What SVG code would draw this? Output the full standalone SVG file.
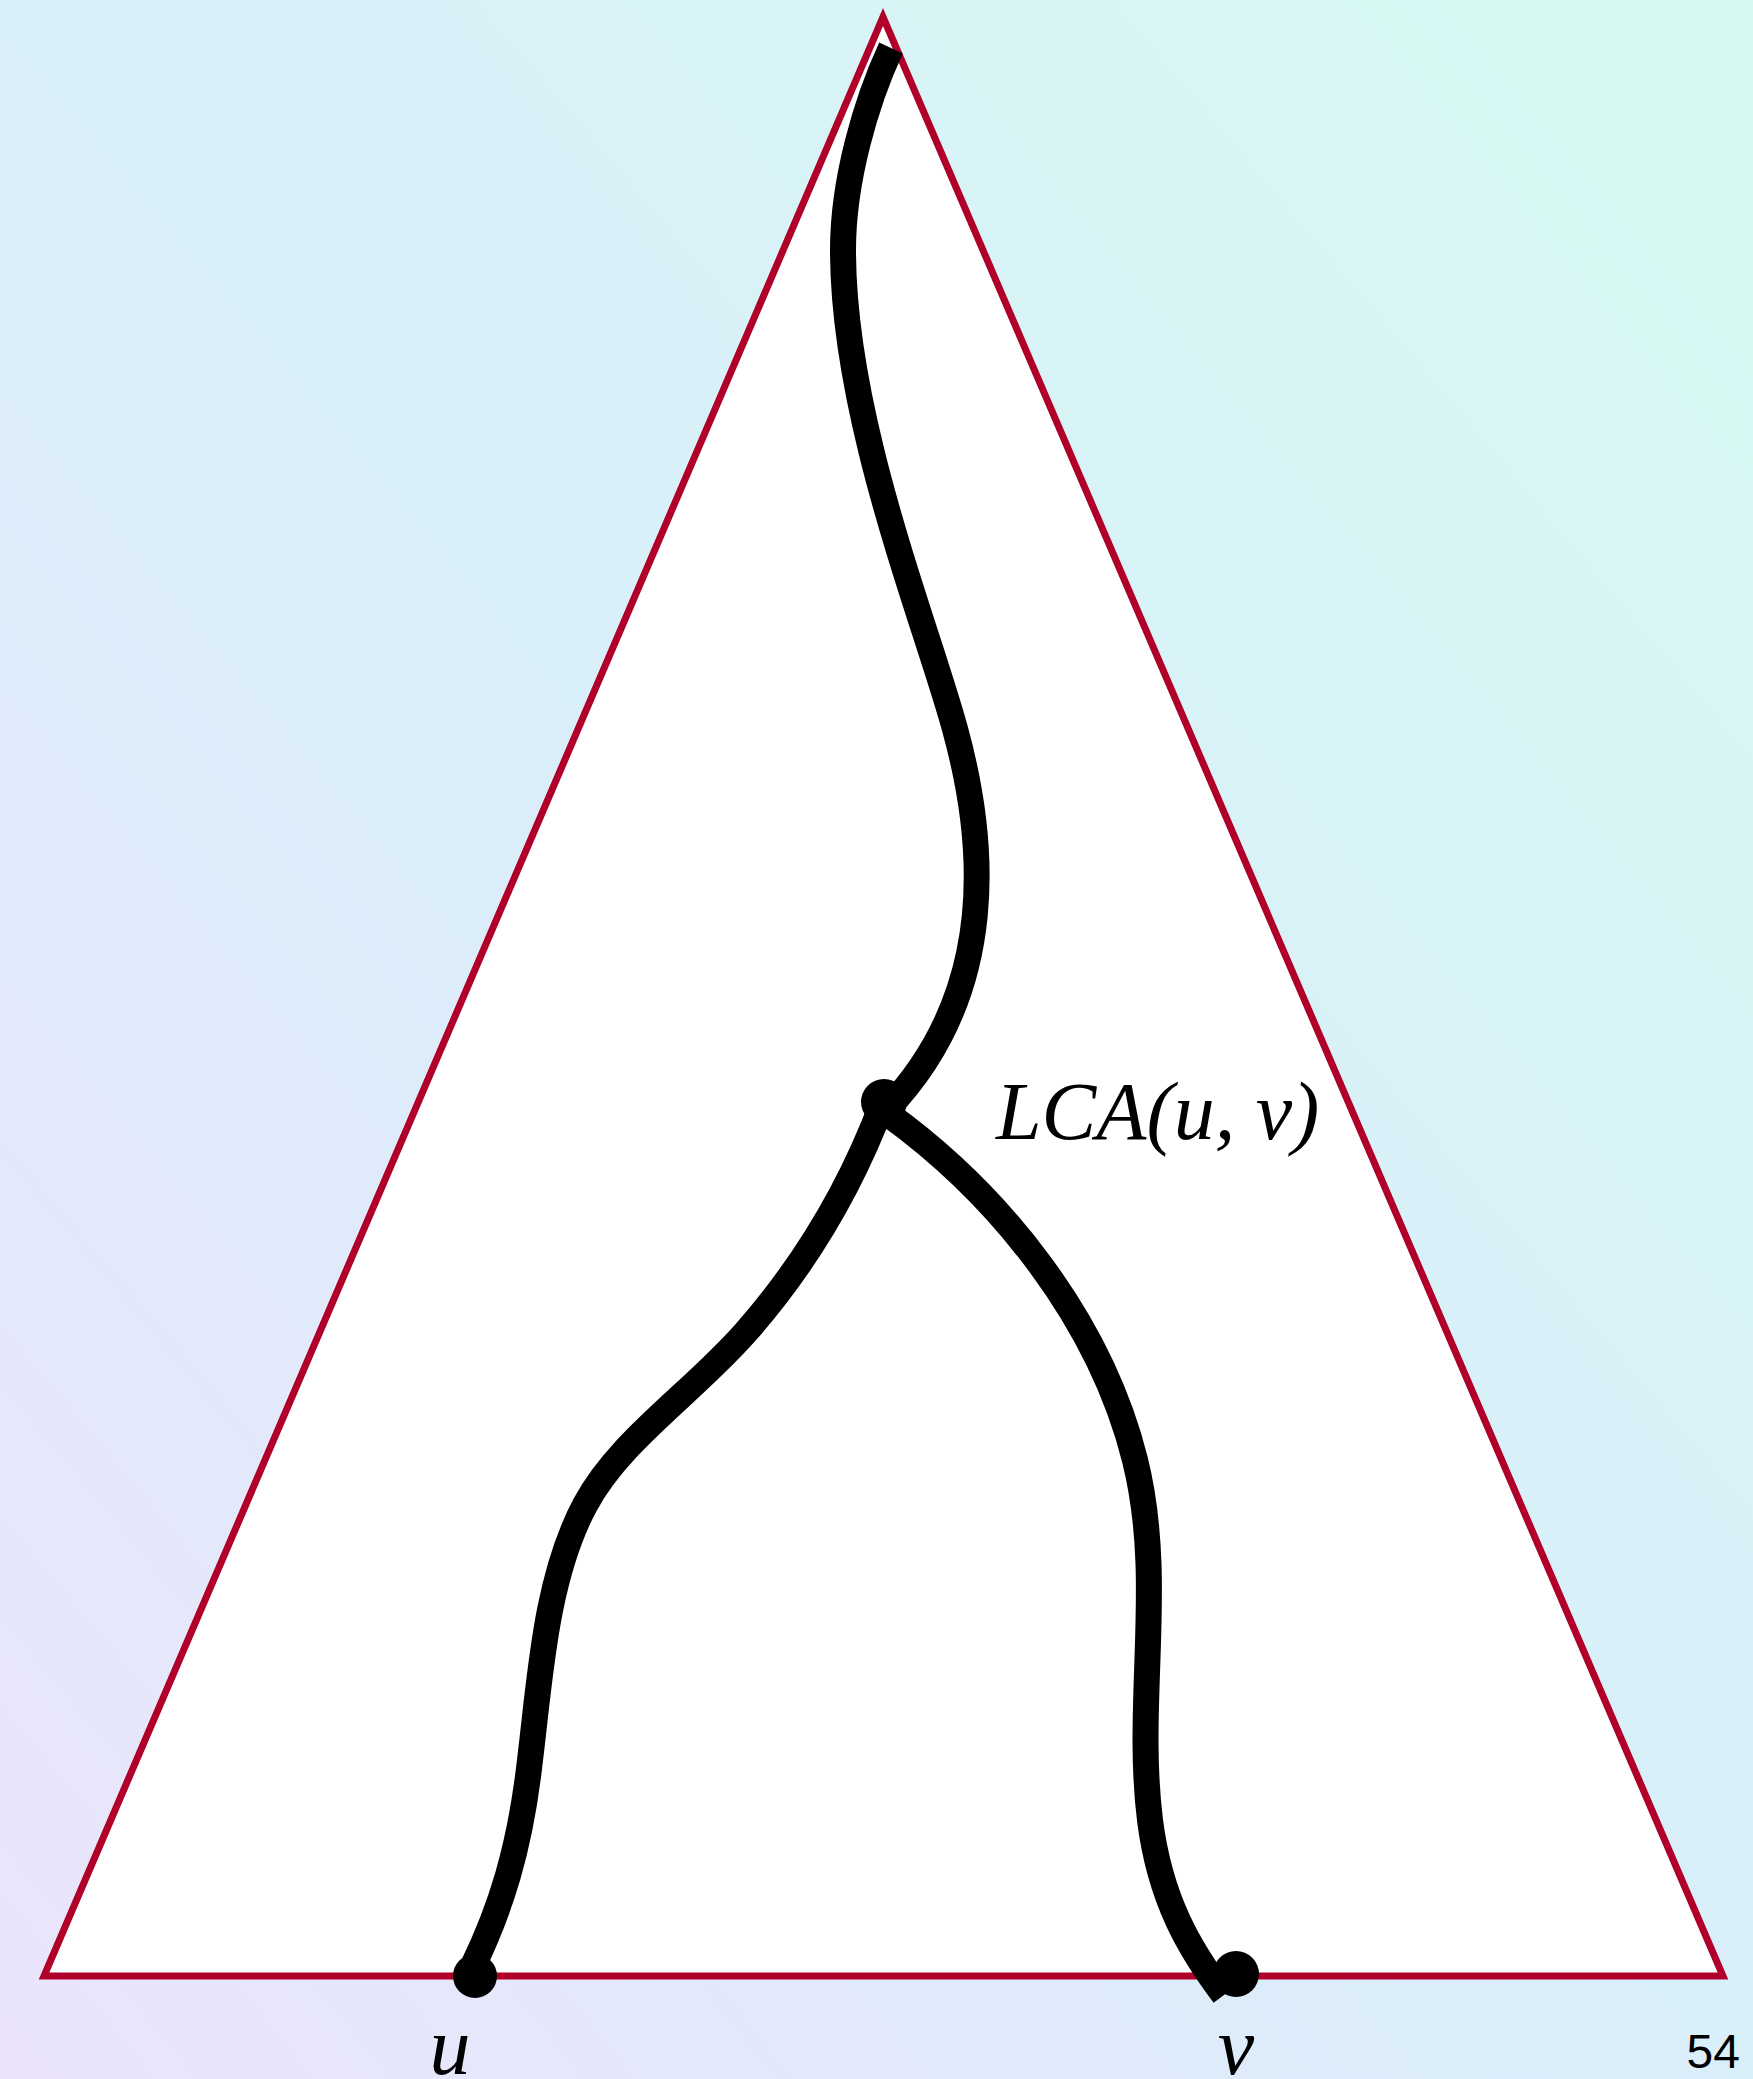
<svg xmlns="http://www.w3.org/2000/svg" width="1753" height="2079" viewBox="0 0 1753 2079">
<defs>
<linearGradient id="bg" x1="0" y1="1" x2="1" y2="0">
<stop offset="0" stop-color="#ebe4fb"/>
<stop offset="0.5" stop-color="#d9effa"/>
<stop offset="1" stop-color="#d7faf2"/>
</linearGradient>
<style>
.edge{fill:none;stroke:#000;stroke-width:26;stroke-linecap:butt;stroke-linejoin:round}
.dot{fill:#000}
.math{font-family:"Liberation Serif","Times New Roman",serif;font-style:italic;font-size:82px;fill:#000}
</style>
</defs>
<rect x="0" y="0" width="1753" height="2079" fill="url(#bg)"/>
<g id="tree">
<polygon points="883,17 1723,1976 44,1976" fill="#fff" stroke="#b0002a" stroke-width="7" stroke-linejoin="miter"/>
</g>
<g id="connectors">
<path class="edge" d="M 891 48 C 866 102, 843 180, 843 250 C 843 420, 925 620, 955 729 C 985 838, 1000 990, 888 1108"/>
<path class="edge" d="M 883 1102 C 850 1190, 805 1265, 745 1333 C 690 1395, 620 1440, 585 1505 C 545 1580, 540 1680, 530 1760 C 520 1850, 500 1910, 473 1966"/>
<path class="edge" d="M 888 1114 C 1000 1195, 1100 1320, 1135 1460 C 1165 1580, 1135 1700, 1150 1820 C 1160 1900, 1190 1950, 1224 1995"/>
</g>
<g id="lca">
<circle class="dot" cx="884" cy="1102" r="23"/>
<text class="math" x="996" y="1139">LCA(u, v)</text>
</g>
<g id="u">
<circle class="dot" cx="475" cy="1976" r="22"/>
<text class="math" x="450" y="2074" text-anchor="middle">u</text>
</g>
<g id="v">
<circle class="dot" cx="1236" cy="1974" r="23"/>
<text class="math" x="1236" y="2074" text-anchor="middle">v</text>
</g>
<text x="1740" y="2068" text-anchor="end" font-family="Liberation Sans, Arial, sans-serif" font-size="48" fill="#000">54</text>
</svg>
